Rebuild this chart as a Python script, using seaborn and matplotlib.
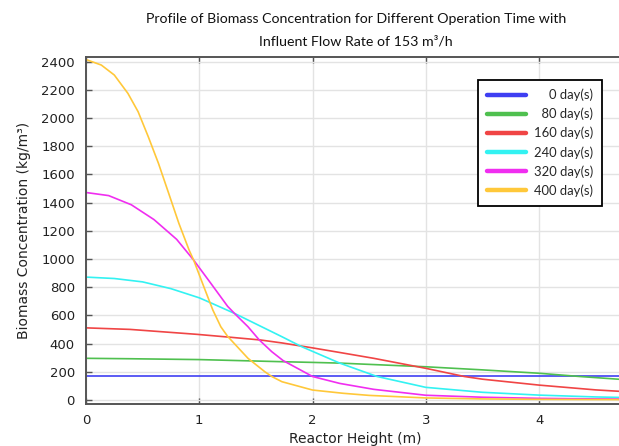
import numpy as np
import pandas as pd
import matplotlib
matplotlib.use("Agg")
import matplotlib.pyplot as plt
import seaborn as sns
from matplotlib.lines import Line2D

# ---- data ----
x_day0 = [0.0, 1.0, 2.0, 3.0, 4.0, 4.75]
y_day0 = [168, 168, 168, 168, 168, 168]

x_day80 = [0.0, 0.39, 1.0, 1.73, 2.0, 2.24, 2.5, 3.0, 3.5, 4.0, 4.36, 4.75]
y_day80 = [296, 293, 287, 272, 267, 262, 253, 236, 214, 190, 167, 145]

x_day160 = [0.0, 0.39, 0.98, 1.28, 1.54, 1.73, 2.0, 2.25, 2.54, 3.0, 3.34, 3.5, 4.0, 4.5, 4.75]
y_day160 = [512, 501, 466, 445, 426, 405, 370, 336, 296, 225, 167, 148, 106, 72, 60]

x_day240 = [0.0, 0.25, 0.5, 0.75, 1.0, 1.1, 1.31, 1.52, 1.73, 1.9, 2.24, 2.57, 3.0, 3.5, 4.0, 4.5, 4.75]
y_day240 = [872, 862, 838, 790, 725, 690, 615, 532, 449, 380, 262, 167, 90, 55, 35, 22, 18]

x_day320 = [0.0, 0.2, 0.4, 0.6, 0.8, 0.95, 1.1, 1.25, 1.31, 1.43, 1.53, 1.64, 1.74,
            2.0, 2.24, 2.54, 3.0, 3.5, 4.0, 4.5, 4.75]
y_day320 = [1472, 1450, 1385, 1280, 1140, 993, 830, 665, 615, 520, 426, 343, 280,
            167, 118, 76, 34, 20, 12, 8, 7]

x_day400 = [0.0, 0.135, 0.25, 0.37, 0.46, 0.55, 0.64, 0.73, 0.82, 0.91, 0.95, 1.04, 1.12,
            1.19, 1.25, 1.28, 1.43, 1.58, 1.64, 1.73, 2.0, 2.27, 2.5, 3.0, 3.5, 4.0, 4.75]
y_day400 = [2415, 2376, 2305, 2175, 2045, 1867, 1678, 1466, 1253, 1064, 993, 804, 638,
            520, 452, 426, 296, 200, 167, 130, 71, 48, 33, 15, 8, 5, 3]

series_labels = ["0 day(s)", "80 day(s)", "160 day(s)", "240 day(s)", "320 day(s)", "400 day(s)"]
series_x = [x_day0, x_day80, x_day160, x_day240, x_day320, x_day400]
series_y = [y_day0, y_day80, y_day160, y_day240, y_day320, y_day400]
colors = ["#3f3ff2", "#4fc04f", "#f04545", "#33f2f2", "#f02ef0", "#ffc83a"]

title_lines = ["Profile of Biomass Concentration for Different Operation Time with",
               "Influent Flow Rate of 153 m\u00b3/h"]
x_label = "Reactor Height (m)"
y_label = "Biomass Concentration (kg/m\u00b3)"
x_ticks = [0, 1, 2, 3, 4]
y_ticks = list(range(0, 2401, 200))

df = pd.concat(
    [pd.DataFrame({"Height": xs, "Conc": ys, "Series": lab})
     for lab, xs, ys in zip(series_labels, series_x, series_y)],
    ignore_index=True)

# ---- figure ----
sns.set_theme(style="whitegrid")
plt.rcParams["font.family"] = ["DejaVu Sans"]
W, H = 619, 446
fig = plt.figure(figsize=(W / 100, H / 100), dpi=100)
ax = fig.add_axes([86 / W, 1 - 404 / H, (W - 86) / W + 0.01, (404 - 57) / H])

sns.lineplot(data=df, x="Height", y="Conc", hue="Series", hue_order=series_labels,
             palette=colors, linewidth=1.2, ax=ax, legend=False, estimator=None, sort=False)

ax.set_xlim(0, 4.76)
ax.set_ylim(-28, 2433)
ax.set_xticks(x_ticks)
ax.set_yticks(y_ticks)
ax.set_xticklabels([str(t) for t in x_ticks])
ax.grid(True, color="#e3e3e3", linewidth=1.0)
ax.set_facecolor("white")
for s in ["left", "bottom", "top"]:
    ax.spines[s].set_color("#555555")
    ax.spines[s].set_linewidth(1.4)
ax.spines["right"].set_visible(False)
ax.tick_params(axis="both", direction="in", length=4, width=1, color="#555555",
               labelsize=9.5, labelcolor="#222222", top=True, bottom=True, left=True)
ax.tick_params(axis="y", pad=8)
ax.tick_params(axis="x", pad=7)
ax.set_xlabel(x_label, fontsize=10, color="#222222", labelpad=4)
ax.set_ylabel(y_label, fontsize=10, color="#222222", labelpad=7)

# legend (right-aligned labels via figure spaces)
maxlen = max(len(l) for l in series_labels)
handles = [Line2D([], [], color=c, linewidth=3.2) for c in colors]
labels = ["\u2007" * (maxlen - len(l)) + l for l in series_labels]
leg = ax.legend(handles, labels, loc="upper right", bbox_to_anchor=(0.957, 0.934),
                borderaxespad=0, frameon=True, fancybox=False, edgecolor="black",
                handlelength=3.0, handletextpad=0.62, labelspacing=0.5,
                borderpad=0.68, prop={"family": ["Lato", "DejaVu Sans"], "size": 9.4})
leg.get_frame().set_linewidth(1.3)
leg.get_frame().set_alpha(1)

fig.text(356 / W, 1 - 19 / H, title_lines[0], ha="center", va="center",
         fontsize=10.2, family=["Lato", "DejaVu Sans"], color="#111111")
fig.text(356 / W, 1 - 41 / H, title_lines[1], ha="center", va="center",
         fontsize=10.2, family=["Lato", "DejaVu Sans"], color="#111111")

fig.savefig("out.png", dpi=100)
